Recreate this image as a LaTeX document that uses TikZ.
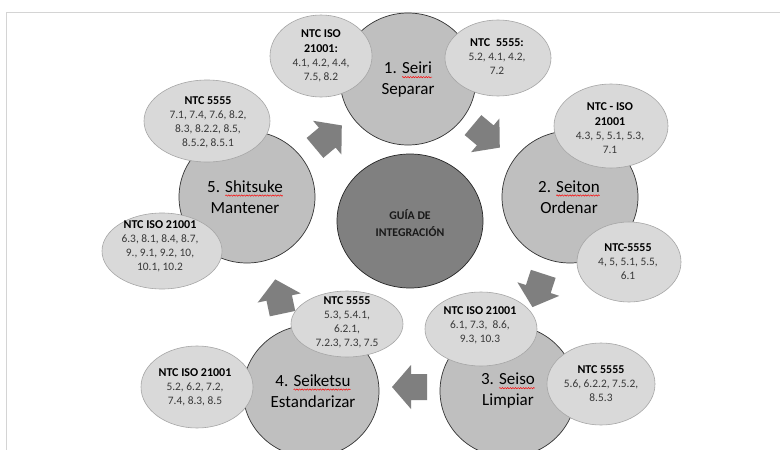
\documentclass[tikz,border=0pt]{standalone}
\usepackage{fontspec}
\setmainfont{Carlito}
\usetikzlibrary{shapes.geometric,decorations.pathmorphing}
\newsavebox\swbox
\newcommand\spellwave[1]{\sbox\swbox{#1}\rlap{\tikz[overlay,x=1pt,y=1pt]\draw[red,line width=0.45pt,decorate,decoration={snake,amplitude=0.7pt,segment length=2.6pt}] (0,-3.2) -- (\wd\swbox,-3.2);}\usebox\swbox}
\definecolor{bigfill}{HTML}{BFBFBF}
\definecolor{cenfill}{HTML}{808080}
\definecolor{smallfill}{HTML}{D9D9D9}
\definecolor{smalldraw}{HTML}{A6A6A6}
\definecolor{arrowfill}{HTML}{7F7F7F}
\definecolor{numtext}{HTML}{383838}
\definecolor{frameline}{HTML}{D4D4D4}
\newcommand\ttl[1]{{\fontsize{12}{14}\selectfont\bfseries\color{black}#1}}
\newcommand\blockarr[3]{%
  \fill[arrowfill, shift={(#1,#2)}, rotate=#3]
    (-17,-13) -- (-1,-13) -- (-1,-22) -- (18,0) -- (-1,22) -- (-1,13) -- (-17,13) -- cycle;}
\tikzset{
  bigcirc/.style={ellipse, draw=black!80, line width=0.7pt, fill=bigfill,
    minimum width=136pt, minimum height=132pt, inner sep=0pt},
  bigtxt/.style={align=center, inner sep=0pt, font=\fontsize{17}{21}\selectfont},
  cencirc/.style={ellipse, draw=black!85, line width=0.7pt, fill=cenfill,
    minimum width=146pt, minimum height=134pt, inner sep=0pt},
  centxt/.style={align=center, inner sep=0pt, text=black!90,
    font=\fontsize{11.8}{17}\selectfont\bfseries},
  smallell/.style={ellipse, draw=smalldraw, line width=0.6pt, fill=smallfill, inner sep=0pt},
  smalltxt/.style={align=center, inner sep=0pt, text=numtext,
    font=\fontsize{11.4}{14}\selectfont},
}
\begin{document}
\begin{tikzpicture}[x=1pt,y=-1pt]
\useasboundingbox (0,0) rectangle (780,450);
\fill[white] (0,0) rectangle (780,450);
\draw[frameline, line width=0.8pt] (780,12) -- (6,12) -- (6,450);

% big circles
\node[bigcirc] (c1) at (408,79) {};
\node[bigcirc] (c2) at (570,197) {};
\node[bigcirc] (c3) at (508,391) {};
\node[bigcirc] (c4) at (311,391) {};
\node[bigcirc] (c5) at (247,197) {};
\node[cencirc] (g) at (410,221) {};

\node[bigtxt] (t1) at (408,80) {1. \spellwave{Seiri}\\Separar};
\node[bigtxt] (t2) at (569,197) {2. \spellwave{Seiton}\\Ordenar};
\node[bigtxt] (t3) at (508,391) {3. \spellwave{Seiso}\\Limpiar};
\node[bigtxt] (t4) at (313,391) {4. \spellwave{Seiketsu}\\Estandarizar};
\node[bigtxt] (t5) at (245,197) {5. \spellwave{Shitsuke}\\Mantener};
\node[centxt] (tg) at (410,223) {GUÍA DE\\INTEGRACIÓN};

% small ellipses
\node[smallell, minimum width=102pt, minimum height=82pt] (ea) at (321,56) {};
\node[smalltxt] (ta) at (321,56) {\ttl{NTC ISO}\\[1pt]\ttl{21001:}\\4.1, 4.2, 4.4,\\7.5, 8.2};

\node[smallell, minimum width=106pt, minimum height=76pt] (eb) at (498,58) {};
\node[smalltxt] (tb) at (497,57) {\ttl{NTC\enspace 5555:}\\5.2, 4.1, 4.2,\\7.2};

\node[smallell, minimum width=114pt, minimum height=84pt] (ec) at (611,126) {};
\node[smalltxt] (tc) at (610,128) {\ttl{NTC - ISO}\\[1pt]\ttl{21001}\\4.3, 5, 5.1, 5.3,\\7.1};

\node[smallell, minimum width=104pt, minimum height=80pt] (ed) at (629,262) {};
\node[smalltxt] (td) at (628,262) {\ttl{NTC-5555}\\4, 5, 5.1, 5.5,\\6.1};

\node[smallell, minimum width=112pt, minimum height=74pt] (ee) at (481,329) {};
\node[smalltxt] (te) at (480,325) {\ttl{NTC ISO 21001}\\6.1, 7.3,\ \ 8.6,\\9.3, 10.3};

\node[smallell, minimum width=108pt, minimum height=82pt] (ef) at (601,384) {};
\node[smalltxt] (tf) at (601,384) {\ttl{NTC 5555}\\5.6, 6.2.2, 7.5.2,\\8.5.3};

\node[smallell, minimum width=126pt, minimum height=82pt] (eg) at (207,121) {};
\node[smalltxt] (tgg) at (208,122) {\ttl{NTC 5555}\\7.1, 7.4, 7.6, 8.2,\\8.3, 8.2.2, 8.5,\\8.5.2, 8.5.1};

\node[smallell, minimum width=120pt, minimum height=76pt] (eh) at (162,251) {};
\node[smalltxt] (th) at (160,246) {\ttl{NTC ISO 21001}\\6.3, 8.1, 8.4, 8.7,\\9., 9.1, 9.2, 10,\\10.1, 10.2};

\node[smallell, minimum width=112pt, minimum height=82pt] (ei) at (197,387) {};
\node[smalltxt] (ti) at (195,387) {\ttl{NTC ISO 21001}\\5.2, 6.2, 7.2,\\7.4, 8.3, 8.5};

\node[smallell, minimum width=112pt, minimum height=66pt] (ej) at (347,324) {};
\node[smalltxt] (tj) at (347,322) {\ttl{NTC 5555}\\5.3, 5.4.1,\\6.2.1,\\7.2.3, 7.3, 7.5};

% block arrows
\blockarr{328}{137}{40}
\blockarr{486}{136}{-40}
\blockarr{538}{290}{-108}
\blockarr{410}{387}{180}
\blockarr{279}{297}{102}
\end{tikzpicture}
\end{document}
